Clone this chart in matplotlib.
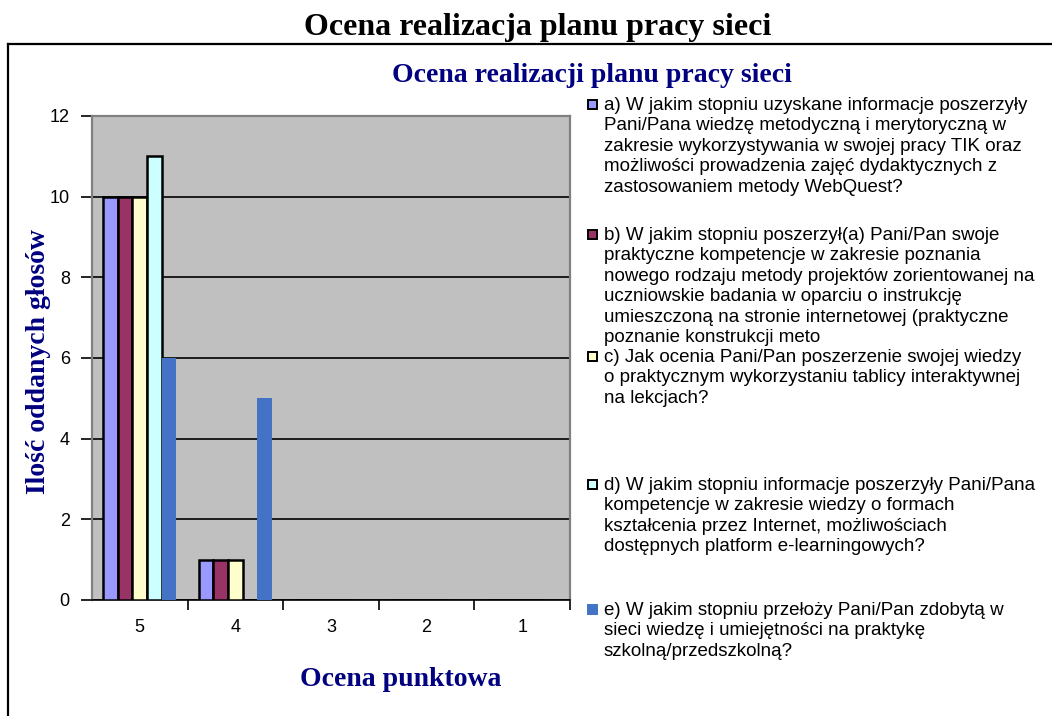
import matplotlib
matplotlib.use("Agg")
import matplotlib.pyplot as plt
from matplotlib.lines import Line2D
from matplotlib.patches import Rectangle
import numpy as np

categories = ["5", "4", "3", "2", "1"]
series_a = [10, 1, 0, 0, 0]
series_b = [10, 1, 0, 0, 0]
series_c = [10, 1, 0, 0, 0]
series_d = [11, 0, 0, 0, 0]
series_e = [6, 5, 0, 0, 0]
yticks = [0, 2, 4, 6, 8, 10, 12]

legend_a = ("a) W jakim stopniu uzyskane informacje poszerzyły\n"
            "Pani/Pana wiedzę metodyczną i merytoryczną w\n"
            "zakresie wykorzystywania w swojej pracy TIK oraz\n"
            "możliwości prowadzenia zajęć dydaktycznych z\n"
            "zastosowaniem metody WebQuest?")
legend_b = ("b) W jakim stopniu poszerzył(a) Pani/Pan swoje\n"
            "praktyczne kompetencje w zakresie poznania\n"
            "nowego rodzaju metody projektów zorientowanej na\n"
            "uczniowskie badania w oparciu o instrukcję\n"
            "umieszczoną na stronie internetowej (praktyczne\n"
            "poznanie konstrukcji meto")
legend_c = ("c) Jak ocenia Pani/Pan poszerzenie swojej wiedzy\n"
            "o praktycznym wykorzystaniu tablicy interaktywnej\n"
            "na lekcjach?")
legend_d = ("d) W jakim stopniu informacje poszerzyły Pani/Pana\n"
            "kompetencje w zakresie wiedzy o formach\n"
            "kształcenia przez Internet, możliwościach\n"
            "dostępnych platform e-learningowych?")
legend_e = ("e) W jakim stopniu przełoży Pani/Pan zdobytą w\n"
            "sieci wiedzę i umiejętności na praktykę\n"
            "szkolną/przedszkolną?")

series = [series_a, series_b, series_c, series_d, series_e]
labels = [legend_a, legend_b, legend_c, legend_d, legend_e]
colors = ["#9999FF", "#993366", "#FFFFCC", "#CCFFFF", "#4472C4"]
edges = ["black", "black", "black", "black", "none"]

W, H = 1052, 716
fig = plt.figure(figsize=(W / 100, H / 100), dpi=100)
fig.patch.set_facecolor("white")

navy = "#000080"
serif = ["Liberation Serif", "DejaVu Serif"]
sans = ["Liberation Sans", "DejaVu Sans"]

# outer frame
fig.add_artist(Line2D([8 / W, 1.0], [1 - 44 / H, 1 - 44 / H], color="black", lw=1.6))
fig.add_artist(Line2D([8 / W, 8 / W], [1 - 44 / H, 0], color="black", lw=1.6))

fig.text(538 / W, 1 - 27 / H, "Ocena realizacja planu pracy sieci", ha="center", va="center",
         fontsize=23, fontweight="bold", family=serif, color="black")
fig.text(592 / W, 1 - 75 / H, "Ocena realizacji planu pracy sieci", ha="center", va="center",
         fontsize=20, fontweight="bold", family=serif, color=navy)

ax = fig.add_axes([92 / W, 1 - 600 / H, (570 - 92) / W, (600 - 116) / H])
ax.set_facecolor("#C0C0C0")
x = np.arange(len(categories))
bw = 0.153
for i, (vals, col, ec) in enumerate(zip(series, colors, edges)):
    ax.bar(x + (i - 2) * bw, vals, width=bw, color=col, edgecolor=ec,
           linewidth=1.8 if ec != "none" else 0, zorder=3)

ax.set_xlim(-0.5, len(categories) - 0.5)
ax.set_ylim(0, 12)
ax.set_yticks(yticks)
ax.set_yticklabels([str(v) for v in yticks], family=sans, fontsize=13)
ax.set_xticks(x)
ax.set_xticklabels(categories, family=sans, fontsize=13)
ax.tick_params(axis="x", length=0, pad=14)
ax.set_xticks(np.arange(len(categories)) + 0.5, minor=True)
ax.tick_params(axis="x", which="minor", length=7, width=1.2, color="black", direction="out")
ax.tick_params(axis="y", length=8, width=1.2, color="black", direction="out", pad=8)
ax.yaxis.grid(True, color="black", lw=1.2, zorder=1)
ax.set_axisbelow(True)
for s in ["top", "right", "left"]:
    ax.spines[s].set_color("#808080")
    ax.spines[s].set_linewidth(1.6)
ax.spines["bottom"].set_color("black")
ax.spines["bottom"].set_linewidth(1.2)

fig.text(39 / W, 1 - 362 / H, "Ilość oddanych głosów", ha="center", va="center", rotation=90,
         fontsize=20, fontweight="bold", family=serif, color=navy)
fig.text(401 / W, 1 - 680 / H, "Ocena punktowa", ha="center", va="center",
         fontsize=20, fontweight="bold", family=serif, color=navy)

# legend
entry_y = [104, 234, 356, 484, 609]
for yy, lab, col, ec in zip(entry_y, labels, colors, edges):
    fig.add_artist(Rectangle(((588) / W, 1 - (yy + 5) / H), 9 / W, 9 / H,
                             transform=fig.transFigure, facecolor=col,
                             edgecolor="black" if ec != "none" else col, lw=1.4))
    fig.text(604 / W, 1 - (yy - 7) / H, lab, ha="left", va="top", family=sans,
             fontsize=13.5, color="black", linespacing=1.26)

fig.savefig("out.png", dpi=100, facecolor="white")
